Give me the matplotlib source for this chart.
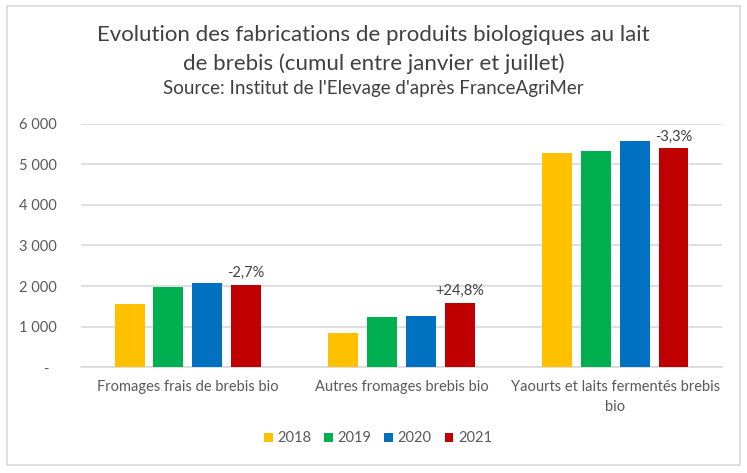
import matplotlib
matplotlib.use("Agg")
import matplotlib.pyplot as plt
from matplotlib.patches import Rectangle
import numpy as np

plt.rcParams['font.family'] = ['Lato', 'DejaVu Sans']

categories = ["Fromages frais de brebis bio", "Autres fromages brebis bio",
              "Yaourts et laits fermentés brebis\nbio"]
years = ["2018", "2019", "2020", "2021"]
values = {
    "2018": [1550, 850, 5285],
    "2019": [1985, 1245, 5330],
    "2020": [2085, 1265, 5580],
    "2021": [2030, 1580, 5395],
}
colors = ["#FFC000", "#00B050", "#0070C0", "#C00000"]
annotations = ["-2,7%", "+24,8%", "-3,3%"]
yticks = [0, 1000, 2000, 3000, 4000, 5000, 6000]
ytick_labels = ["-  ", "1 000", "2 000", "3 000", "4 000", "5 000", "6 000"]

fig = plt.figure(figsize=(7.47, 4.73), dpi=100)
ax = fig.add_axes([0.108, 0.224, 0.859, 0.514])

x = np.arange(len(categories))
step = 0.181
width = 0.14
for i, y in enumerate(years):
    ax.bar(x + (i - 1.5) * step, values[y], width=width, color=colors[i], label=y, zorder=3)

for j, txt in enumerate(annotations):
    ax.text(x[j] + 1.5 * step, values["2021"][j] + 120, txt, ha="center", va="bottom",
            fontsize=10.5, color="#404040")

ax.set_xlim(-0.5, 2.5)
ax.set_ylim(0, 6000)
ax.set_yticks(yticks)
ax.set_yticklabels(ytick_labels)
ax.set_xticks(x)
ax.set_xticklabels(categories, linespacing=1.6)
ax.tick_params(axis="both", length=0, labelsize=10.5, colors="#595959")
ax.tick_params(axis="x", pad=9)
ax.tick_params(axis="y", pad=17)
ax.grid(axis="y", color="#D9D9D9", linewidth=1.2, zorder=0)
for s in ["top", "right", "left"]:
    ax.spines[s].set_visible(False)
ax.spines["bottom"].set_color("#D9D9D9")
ax.spines["bottom"].set_linewidth(1.2)

fig.text(0.5, 0.925, "Evolution des fabrications de produits biologiques au lait",
         ha="center", va="center", fontsize=16, color="#404040")
fig.text(0.5, 0.866, "de brebis (cumul entre janvier et juillet)",
         ha="center", va="center", fontsize=16, color="#404040")
fig.text(0.5, 0.813, "Source: Institut de l'Elevage d'après FranceAgriMer",
         ha="center", va="center", fontsize=13.5, color="#404040")

leg = fig.legend(loc="center", bbox_to_anchor=(0.506, 0.073), ncol=4, frameon=False,
                 fontsize=10.5, handlelength=0.6, handleheight=0.6, handletextpad=0.3,
                 columnspacing=0.9)
for t in leg.get_texts():
    t.set_color("#595959")

fig.patches.append(Rectangle((0.009, 0.017), 0.982, 0.97, transform=fig.transFigure,
                             fill=False, edgecolor="#D9D9D9", linewidth=1.2))

fig.savefig("out.png", dpi=100)
